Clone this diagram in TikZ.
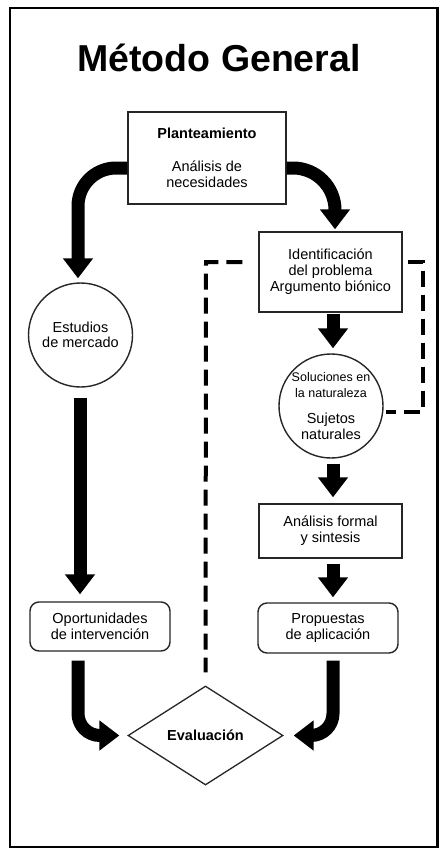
\documentclass[tikz,border=0pt]{standalone}
\usepackage{fontspec}
\setmainfont{Liberation Sans}
\usetikzlibrary{arrows.meta,shapes.geometric}
\newcommand{\smalltxt}{\fontsize{12.5}{13}\selectfont}
\tikzset{
  box/.style={draw=black!85, line width=1.4pt, inner sep=0pt, align=center,
    font=\fontsize{14.5}{16}\selectfont},
  rbox/.style={box, rounded corners=9pt},
  roundnode/.style={draw=black!85, line width=1.4pt, circle, inner sep=0pt,
    minimum size=104pt, align=center, font=\fontsize{14.5}{15.5}\selectfont},
  decision/.style={draw=black!85, line width=1.3pt, diamond, aspect=1.5, inner sep=0pt,
    minimum width=155pt, minimum height=99pt, font=\fontsize{14.5}{16}\selectfont\bfseries},
  bigarrow/.style={line width=13pt, line cap=butt, line join=miter,
    -{Triangle[width=29pt, length=20pt]}},
  feedback/.style={line width=4pt, dash pattern=on 16pt off 8pt}
}
\begin{document}
\begin{tikzpicture}[x=1pt,y=-1pt]
  \useasboundingbox (0,0) rectangle (439,856);
  \fill[white] (0,0) rectangle (439,856);
  \draw[line width=2.2pt] (10,8) rectangle (437.5,847);

  % title
  \node[anchor=base, font=\fontsize{37.5}{40}\selectfont\bfseries] (title) at (219,72) {Método General};

  % nodes
  \node[box, minimum width=158pt, minimum height=92pt] (plan) at (207,158)
    {\textbf{Planteamiento}\\[17pt]Análisis de\\necesidades};
  \node[box, minimum width=143pt, minimum height=80pt] (ident) at (330.5,272)
    {Identificación\\del problema\\Argumento biónico};
  \node[roundnode] (merc) at (80.5,335) {Estudios\\de mercado};
  \node[roundnode] (nat) at (331,406)
    {\smalltxt Soluciones en\\\smalltxt la naturaleza\\[11pt]Sujetos\\naturales};
  \node[box, minimum width=143pt, minimum height=54pt] (form) at (330.5,531)
    {Análisis formal\\y sintesis};
  \node[rbox, minimum width=140pt, minimum height=49pt] (oport) at (100,626.5)
    {Oportunidades\\de intervención};
  \node[rbox, minimum width=140pt, minimum height=50pt] (prop) at (328,628)
    {Propuestas\\de aplicación};
  \node[decision] (eval) at (205.5,735.5) {Evaluación};

  % main flow
  \draw[bigarrow, rounded corners=38pt, shorten >=4pt]
    ([yshift=-10pt]plan.west) -| ([xshift=-2.5pt]merc.north);
  \draw[bigarrow, rounded corners=42pt, shorten >=2pt]
    ([yshift=-10pt]plan.east) -| ([xshift=4.5pt]ident.north);
  \draw[bigarrow, shorten <=1pt, shorten >=5pt] ([xshift=2.5pt]ident.south) -- ([xshift=2pt]nat.north);
  \draw[bigarrow, shorten <=5pt, shorten >=6pt] ([xshift=2pt]nat.south) -- ([xshift=2.5pt]form.north);
  \draw[bigarrow, shorten <=5pt, shorten >=5pt] ([xshift=2.5pt]form.south) -- ([xshift=5pt]prop.north);
  \draw[bigarrow, shorten <=10pt, shorten >=7pt] ([xshift=-0.5pt]merc.south) -- ([xshift=-20pt]oport.north);
  \draw[bigarrow, rounded corners=22pt, shorten <=9pt, shorten >=8pt]
    ([xshift=-22pt]oport.south) |- (eval.west);
  \draw[bigarrow, rounded corners=22pt, shorten <=7pt, shorten >=10pt]
    ([xshift=5pt]prop.south) |- (eval.east);

  % feedback loop
  \coordinate (dl) at (206,262);
  \coordinate (dr) at (423,262);
  \coordinate (db) at (423,412);
  \draw[feedback, shorten <=16pt, shorten >=13pt] (ident.west |- dl) -- (dl) -- (eval.north);
  \draw[feedback, shorten <=5pt, shorten >=3pt] (ident.east |- dr) -- (dr) -- (db) -- (383,412);
\end{tikzpicture}
\end{document}
